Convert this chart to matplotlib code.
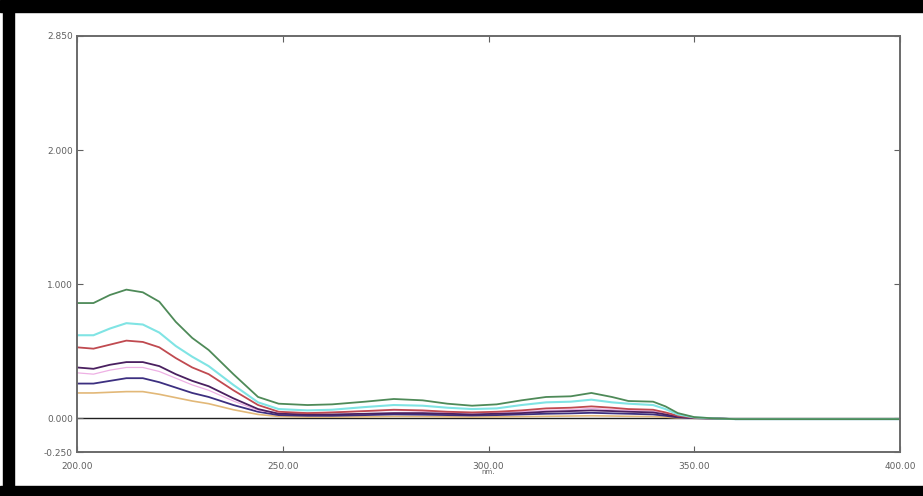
import numpy as np
import matplotlib
matplotlib.use('Agg')
import matplotlib.pyplot as plt
from matplotlib.patches import Rectangle

# wavelength sample points (nm)
wl = [200, 204, 208, 212, 216, 220, 224, 228, 232, 238, 244, 249, 256, 262, 270,
      277, 284, 290, 296, 302, 308, 314, 320, 325, 330, 334, 340, 343, 346, 350,
      355, 360, 400]

# absorbance of each trace
green = [0.86, 0.86, 0.92, 0.96, 0.94, 0.87, 0.72, 0.60, 0.51, 0.33, 0.16, 0.11, 0.10, 0.105, 0.125,
         0.145, 0.135, 0.11, 0.095, 0.105, 0.135, 0.16, 0.165, 0.19, 0.16, 0.13, 0.125, 0.09, 0.04, 0.01,
         0.0, -0.005, -0.005]
cyan = [0.62, 0.62, 0.67, 0.71, 0.70, 0.64, 0.54, 0.46, 0.39, 0.25, 0.12, 0.07, 0.06, 0.065, 0.085,
        0.10, 0.095, 0.08, 0.07, 0.075, 0.10, 0.12, 0.125, 0.14, 0.12, 0.11, 0.10, 0.07, 0.03, 0.008,
        0.0, -0.005, -0.005]
red = [0.53, 0.52, 0.55, 0.58, 0.57, 0.53, 0.45, 0.38, 0.33, 0.21, 0.10, 0.05, 0.04, 0.045, 0.055,
       0.065, 0.06, 0.05, 0.045, 0.05, 0.06, 0.075, 0.08, 0.09, 0.08, 0.07, 0.065, 0.045, 0.02, 0.005,
       0.0, -0.005, -0.005]
magenta = [0.34, 0.33, 0.36, 0.38, 0.38, 0.35, 0.30, 0.25, 0.21, 0.13, 0.06, 0.04, 0.04, 0.045, 0.055,
           0.06, 0.055, 0.045, 0.04, 0.045, 0.05, 0.06, 0.065, 0.075, 0.065, 0.06, 0.055, 0.04, 0.015, 0.004,
           0.0, -0.005, -0.005]
purple = [0.38, 0.37, 0.40, 0.42, 0.42, 0.39, 0.33, 0.28, 0.24, 0.15, 0.07, 0.035, 0.03, 0.03, 0.035,
          0.04, 0.04, 0.035, 0.03, 0.035, 0.04, 0.05, 0.055, 0.06, 0.055, 0.05, 0.045, 0.03, 0.012, 0.003,
          0.0, -0.005, -0.005]
navy = [0.26, 0.26, 0.28, 0.30, 0.30, 0.27, 0.23, 0.19, 0.16, 0.10, 0.05, 0.025, 0.02, 0.02, 0.025,
        0.03, 0.028, 0.025, 0.022, 0.025, 0.03, 0.035, 0.038, 0.042, 0.038, 0.035, 0.03, 0.02, 0.008, 0.002,
        0.0, -0.005, -0.005]
tan = [0.19, 0.19, 0.195, 0.20, 0.20, 0.18, 0.155, 0.13, 0.11, 0.065, 0.03, 0.015, 0.01, 0.01, 0.012,
       0.015, 0.014, 0.012, 0.01, 0.012, 0.014, 0.016, 0.018, 0.02, 0.018, 0.016, 0.014, 0.01, 0.004, 0.001,
       0.0, -0.005, -0.005]

traces = [(tan, '#e2b878', 1.2), (navy, '#3c2f80', 1.3), (magenta, '#eeb0e4', 0.9),
          (purple, '#4a2060', 1.3), (red, '#c04a50', 1.3), (cyan, '#80e4e4', 1.5),
          (green, '#4e8a58', 1.3)]

x_ticks = [200, 250, 300, 350, 400]
x_labels = ['200.00', '250.00', '300.00', '350.00', '400.00']
y_ticks = [-0.25, 0.0, 1.0, 2.0, 2.85]
y_labels = ['-0.250', '0.000', '1.000', '2.000', '2.850']

fig = plt.figure(figsize=(9.23, 4.96), dpi=100)
ax = fig.add_axes([77 / 923, 44 / 496, 823 / 923, 416 / 496])

ax.axhline(0, color='#202020', lw=1.0, zorder=1)
for vals, col, lw in traces:
    ax.plot(wl, vals, color=col, lw=lw, zorder=2)

ax.set_xlim(200, 400)
ax.set_ylim(-0.25, 2.85)
ax.set_xticks(x_ticks)
ax.set_xticklabels(x_labels)
ax.set_yticks(y_ticks)
ax.set_yticklabels(y_labels)
ax.tick_params(axis='both', direction='in', length=4, color='#606060',
               labelsize=6.5, labelcolor='#606060', top=True, right=True)
ax.tick_params(axis='x', pad=7)
ax.tick_params(axis='y', pad=3)
for s in ax.spines.values():
    s.set_color('#6a6a6a')
    s.set_linewidth(1.4)
ax.set_xlabel('nm.', fontsize=5, color='#606060', labelpad=-1)

# black frame around the picture (left, top, bottom only)
fig.patches.append(Rectangle((0, 1 - 12 / 496), 1, 12 / 496, transform=fig.transFigure,
                             color='black', zorder=0))
fig.patches.append(Rectangle((3 / 923, 0), 11 / 923, 1, transform=fig.transFigure,
                             color='black', zorder=0))
fig.patches.append(Rectangle((0, 0), 1, 10 / 496, transform=fig.transFigure,
                             color='black', zorder=0))

fig.savefig('out.png', dpi=100)
